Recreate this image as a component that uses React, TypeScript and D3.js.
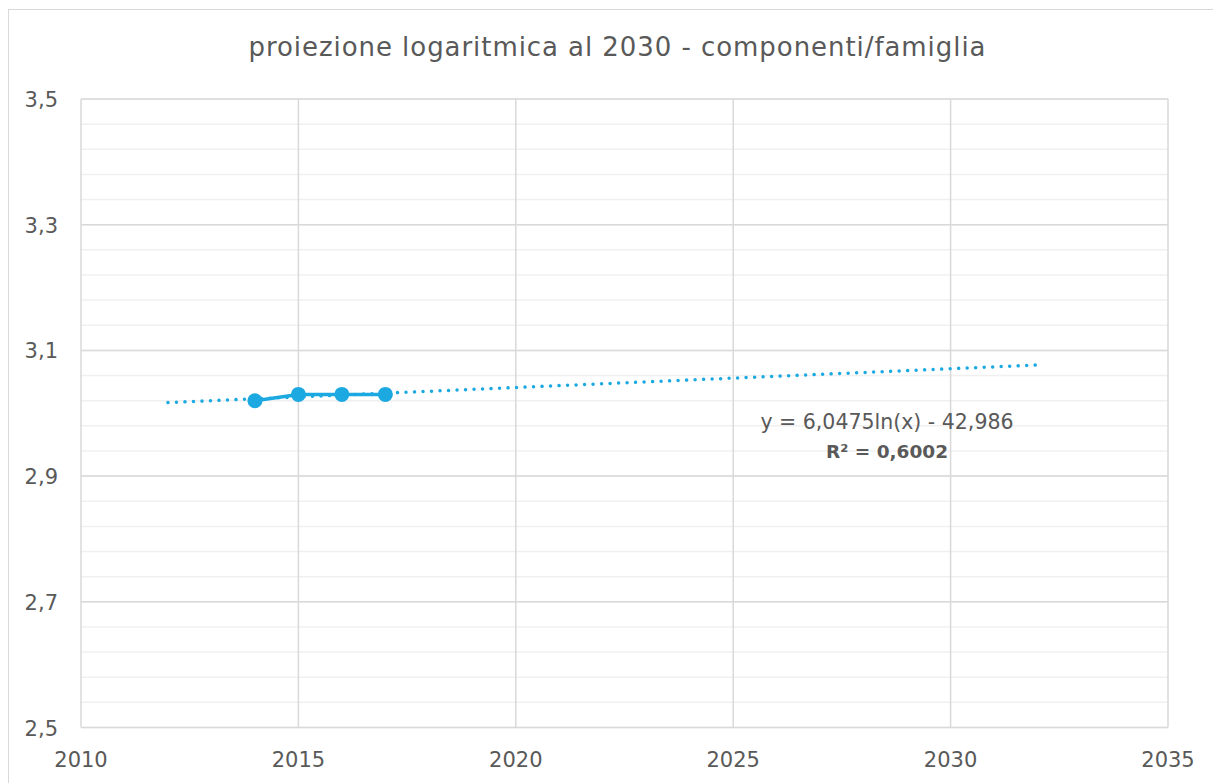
import React from 'react';
import * as d3 from 'd3';

// dati
const years = [2014, 2015, 2016, 2017];
const values = [3.02, 3.03, 3.03, 3.03];
const xTicks = [2010, 2015, 2020, 2025, 2030, 2035];
const yTicks = [2.5, 2.7, 2.9, 3.1, 3.3, 3.5];
const trendRange = [2012, 2032];
const eqText = 'y = 6,0475ln(x) - 42,986';
const r2Text = 'R² = 0,6002';
const title = 'proiezione logaritmica al 2030 - componenti/famiglia';

const W = 1213;
const H = 783;
const m = { left: 81, right: 1168, top: 99, bottom: 727.5 };
const blue = '#1ca9e1';
const txt = '#595959';
const font = '"DejaVu Sans", sans-serif';

// regressione logaritmica (minimi quadrati su ln x)
const lx = years.map(v => Math.log(v));
const mx = d3.mean(lx) as number;
const my = d3.mean(values) as number;
const slope =
  d3.sum(lx, (v, i) => (v - mx) * (values[i] - my)) / d3.sum(lx, v => (v - mx) ** 2);
const intercept = my - slope * mx;

const App = () => {
  const x = d3.scaleLinear().domain([2010, 2035]).range([m.left, m.right]);
  const y = d3.scaleLinear().domain([2.5, 3.5]).range([m.bottom, m.top]);

  const minor = d3.range(2.5, 3.5001, 0.04);
  const trendX = d3.range(trendRange[0], trendRange[1] + 0.001, 0.25);
  const trendLine = d3
    .line<number>()
    .x(d => x(d))
    .y(d => y(slope * Math.log(d) + intercept));
  const dataLine = d3
    .line<number>()
    .x((d, i) => x(years[i]))
    .y(d => y(d));

  return (
    <svg width={W} height={H} style={{ position: 'absolute', left: 0, top: 0, background: '#fff' }}>
      <rect x={8.5} y={9.5} width={1210} height={790} fill="#fff" stroke="#d9d9d9" />
      <text x={617} y={56} textAnchor="middle" fontFamily={font} fontSize={26} fill={txt}
        textLength={737} lengthAdjust="spacing">
        {title}
      </text>

      {minor.map((v, i) => (
        <line key={'m' + i} x1={m.left} x2={m.right} y1={y(v)} y2={y(v)} stroke="#f0f0f0" strokeWidth={1.5} />
      ))}
      {yTicks.map(v => (
        <line key={'y' + v} x1={m.left} x2={m.right} y1={y(v)} y2={y(v)} stroke="#d9d9d9" strokeWidth={1.5} />
      ))}
      {xTicks.map(v => (
        <line key={'x' + v} x1={x(v)} x2={x(v)} y1={m.top} y2={m.bottom} stroke="#d9d9d9" strokeWidth={1.5} />
      ))}

      {yTicks.map(v => (
        <text key={'yl' + v} x={58} y={y(v) + 8} textAnchor="end" fontFamily={font} fontSize={21} fill={txt}>
          {d3.format('.1f')(v).replace('.', ',')}
        </text>
      ))}
      {xTicks.map(v => (
        <text key={'xl' + v} x={x(v)} y={767} textAnchor="middle" fontFamily={font} fontSize={21} fill={txt}>
          {v}
        </text>
      ))}

      <path d={dataLine(values) || ''} fill="none" stroke={blue} strokeWidth={3.5} strokeLinejoin="round" />
      <path
        d={trendLine(trendX) || ''}
        fill="none"
        stroke={blue}
        strokeWidth={3.5}
        strokeLinecap="round"
        strokeDasharray="0.01 8.5"
      />
      {values.map((v, i) => (
        <circle key={'c' + i} cx={x(years[i])} cy={y(v)} r={7.5} fill={blue} />
      ))}

      <text x={887} y={429} textAnchor="middle" fontFamily={font} fontSize={20.5} fill={txt}>
        {eqText}
      </text>
      <text x={887} y={458} textAnchor="middle" fontFamily={font} fontSize={18.5} fontWeight="bold" fill={txt}>
        {r2Text}
      </text>
    </svg>
  );
};

export default App;
